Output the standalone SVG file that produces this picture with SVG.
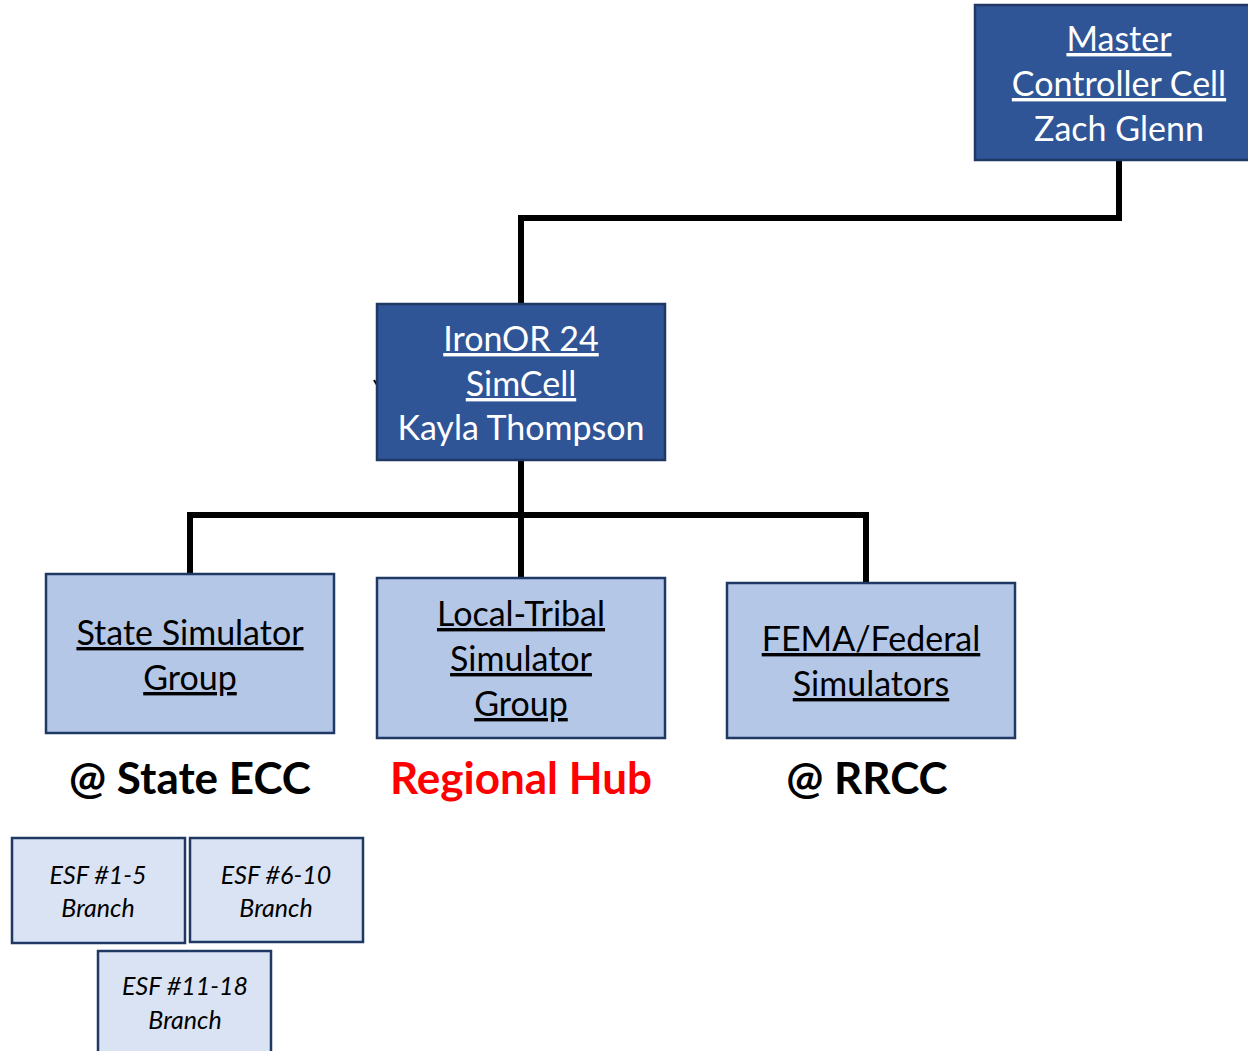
<svg xmlns="http://www.w3.org/2000/svg" width="1248" height="1051" viewBox="0 0 1248 1051">
<style>
.dark{fill:#2F5597;stroke:#1F3864;stroke-width:2.5}
.mid{fill:#B4C7E7;stroke:#1F3864;stroke-width:2.5}
.light{fill:#DAE3F3;stroke:#1F3864;stroke-width:2.5}
text{font-family:Lato,"Open Sans","Liberation Sans",sans-serif;text-anchor:middle}
.w{fill:#fff;font-size:34px}
.b{fill:#000;font-size:34px}
.u{text-decoration:underline}
.lbl{font-size:44px;font-weight:bold}
.esf{font-size:25px;font-style:italic;fill:#000}
.conn{fill:none;stroke:#000;stroke-width:6}
</style>
<rect width="1248" height="1051" fill="#fff"/>
<g id="connectors">
<path class="conn" d="M1119,160 V218 H521 V304"/>
<path class="conn" d="M521,460 V515"/>
<path class="conn" d="M190,573 V515 H866 V582"/>
<path class="conn" d="M521,515 V577"/>
<path d="M374,380 L377,385" stroke="#000" stroke-width="2"/>
</g>
<g id="master">
<rect class="dark" x="975" y="5" width="280" height="155"/>
<text class="w u" x="1119" y="51">Master</text>
<text class="w u" x="1119" y="96">Controller Cell</text>
<text class="w" x="1119" y="141">Zach Glenn</text>
</g>
<g id="simcell">
<rect class="dark" x="377" y="304" width="288" height="156"/>
<text class="w u" x="521" y="351">IronOR 24</text>
<text class="w u" x="521" y="396">SimCell</text>
<text class="w" x="521" y="440">Kayla Thompson</text>
</g>
<g id="state">
<rect class="mid" x="46" y="574" width="288" height="159"/>
<text class="b u" x="190" y="645">State Simulator</text>
<text class="b u" x="190" y="690">Group</text>
</g>
<g id="local">
<rect class="mid" x="377" y="578" width="288" height="160"/>
<text class="b u" x="521" y="626">Local-Tribal</text>
<text class="b u" x="521" y="671">Simulator</text>
<text class="b u" x="521" y="716">Group</text>
</g>
<g id="fema">
<rect class="mid" x="727" y="583" width="288" height="155"/>
<text class="b u" x="871" y="651">FEMA/Federal</text>
<text class="b u" x="871" y="696">Simulators</text>
</g>
<g id="labels">
<text class="lbl" x="190" y="794" fill="#000">@ State ECC</text>
<text class="lbl" x="521" y="794" fill="#FF0000">Regional Hub</text>
<text class="lbl" x="867" y="794" fill="#000">@ RRCC</text>
</g>
<g id="esf1">
<rect class="light" x="12" y="838" width="173" height="105"/>
<text class="esf" x="98" y="884">ESF #1-5</text>
<text class="esf" x="98" y="917">Branch</text>
</g>
<g id="esf2">
<rect class="light" x="190" y="838" width="173" height="104"/>
<text class="esf" x="276" y="884">ESF #6-10</text>
<text class="esf" x="276" y="917">Branch</text>
</g>
<g id="esf3">
<rect class="light" x="98" y="951" width="173" height="110"/>
<text class="esf" x="185" y="995">ESF #11-18</text>
<text class="esf" x="185" y="1029">Branch</text>
</g>
</svg>
